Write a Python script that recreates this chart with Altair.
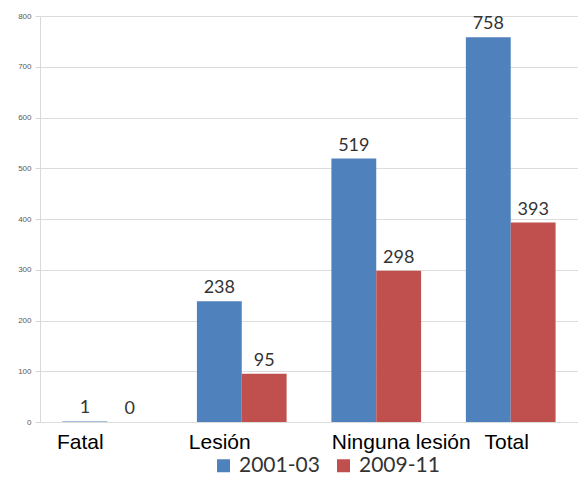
import altair as alt
import pandas as pd

categories = ["Fatal", "Lesión", "Ninguna lesión", "Total"]
series = ["2001-03", "2009-11"]
values_2001 = [1, 238, 519, 758]
values_2009 = [0, 95, 298, 393]
colors = ["#4F81BD", "#C0504D"]

rows = []
for c, a, b in zip(categories, values_2001, values_2009):
    rows.append({"cat": c, "serie": series[0], "v": a})
    rows.append({"cat": c, "serie": series[1], "v": b})
df = pd.DataFrame(rows)

x = alt.X("cat:N", sort=categories, title=None,
          scale=alt.Scale(paddingInner=0.333, paddingOuter=0.1667),
          axis=alt.Axis(labelAngle=0, labelFont="Liberation Sans", labelFontSize=21,
                        labelColor="#000000", ticks=False, domain=False, labelPadding=9,
                        labelOffset={"condition": [
                            {"test": "datum.value == 'Fatal'", "value": -27},
                            {"test": "datum.value == 'Lesión'", "value": -22},
                            {"test": "datum.value == 'Ninguna lesión'", "value": 25}],
                            "value": -4}))
xo = alt.XOffset("serie:N", sort=series)

base = alt.Chart(df)

bars = base.mark_bar().encode(
    x=x, xOffset=xo,
    y=alt.Y("v:Q", title=None,
            scale=alt.Scale(domain=[0, 800], nice=False),
            axis=alt.Axis(values=list(range(0, 801, 100)), labelFontSize=8,
                          labelColor="#595959", labelFont="Liberation Sans",
                          gridColor="#dcdcdc", domainColor="#d9d9d9",
                          tickColor="#d9d9d9", tickSize=5, labelPadding=4)),
    color=alt.Color("serie:N", sort=series,
                    scale=alt.Scale(domain=series, range=colors),
                    legend=alt.Legend(title=None, orient="none", direction="horizontal",
                                      legendX=173, legendY=439, symbolType="square",
                                      symbolSize=169, symbolStrokeWidth=0,
                                      labelFont="Lato", labelFontSize=21,
                                      labelColor="#333333", labelOffset=5,
                                      columnPadding=13)),
)

labels = base.mark_text(dy=-8, baseline="alphabetic", font="Lato", fontSize=18,
                        color="#333333").encode(
    x=x, xOffset=xo,
    y="v:Q",
    text="v:Q",
)

chart = (bars + labels).properties(
    width=538, height=406,
    padding={"left": 32, "top": 8, "right": 0, "bottom": 57},
    autosize=alt.AutoSizeParams(type="none"),
).configure_view(stroke=None)

chart.save("out.html", embed_options={"renderer": "svg", "actions": False})
